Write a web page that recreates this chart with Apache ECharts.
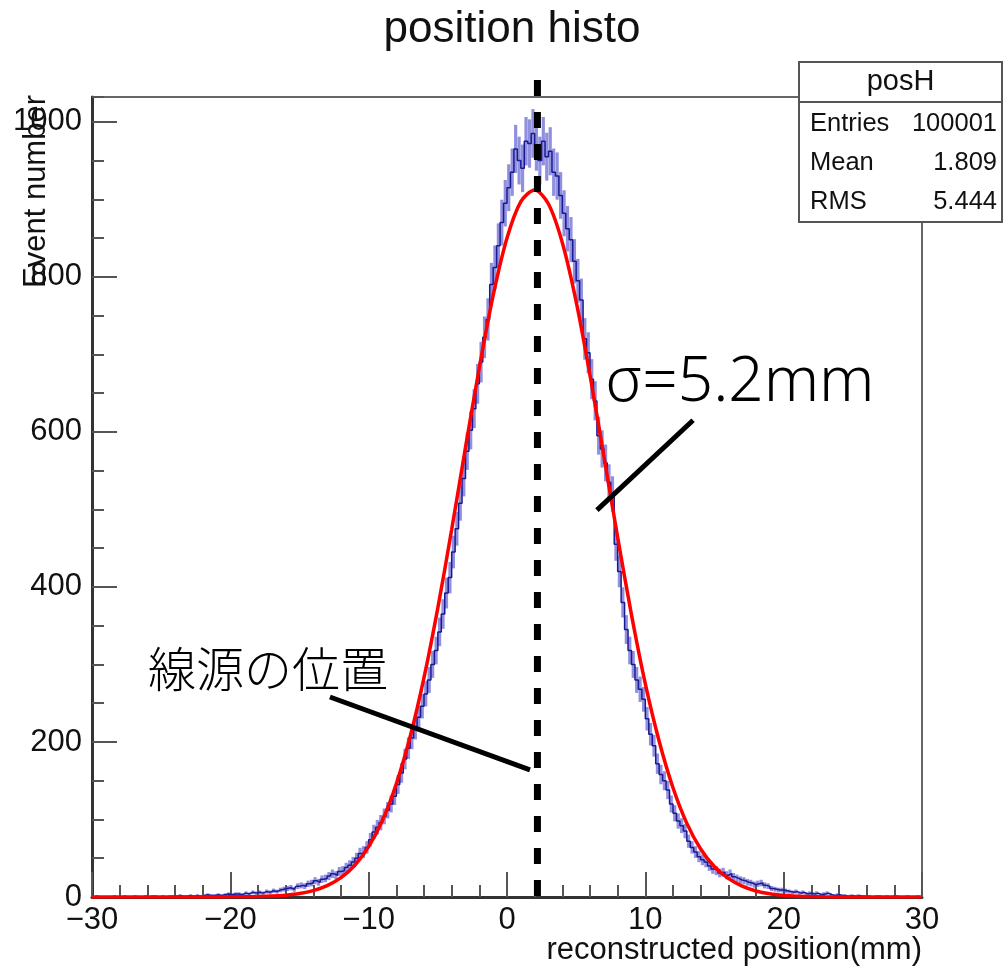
<!DOCTYPE html>
<html><head><meta charset="utf-8">
<script src="https://cdn.jsdelivr.net/npm/echarts@6/dist/echarts.min.js"></script>
<style>html,body{margin:0;padding:0;background:#fff}#c{width:1003px;height:969px}</style>
</head><body><div id="c"></div>
<script>
// ---- data ----
const histLow = -30;
const histBinWidth = 0.25;
const histCounts = [
  0,1,0,0,  0,0,1,0,  0,1,0,0,  1,0,0,1,  0,1,1,0,
  1,0,1,1,  1,2,1,1,  2,1,2,1,  2,3,2,2,  3,2,3,4,
  3,4,4,3,  5,4,6,5,  6,5,7,6,  8,7,9,10, 11,12,10,14,
  15,14,17,18, 21,19,23,24, 27,30,28,33, 34,38,41,45, 50,56,58,64,
  74,84,90,96, 104,112,120,130, 145,160,178,192, 205,218,232,246, 262,280,300,318,
  342,365,392,412, 445,475,508,540, 575,602,630,662, 690,722,745,790, 812,840,870,895,
  915,935,965,950, 940,975,972,985, 968,950,975,955, 962,935,930,905, 882,862,848,820,
  795,770,720,702, 668,640,595,578, 560,535,520,455, 420,380,345,318, 300,280,268,255,
  230,210,195,172, 158,150,138,120, 108,98,92,85, 72,64,58,52, 48,45,40,36,
  34,31,32,28, 30,26,24,22, 21,19,18,16, 17,18,15,14, 11,10,9,9,
  8,7,6,7, 5,6,4,5, 4,5,3,4, 5,3,2,3, 2,2,1,2,
  1,2,1,1, 1,0,1,1, 0,1,0,1, 1,0,0,1, 0,0,1,0
];
const fitX = [-30,-29,-28,-27,-26,-25,-24,-23,-22,-21,-20,-19,-18,-17,-16,-15,-14,-13,-12,-11,-10,-9,-8,-7,-6,-5,-4,-3,-2,-1,0,1,2,3,4,5,6,7,8,9,10,11,12,13,14,15,16,17,18,19,20,21,22,23,24,25,26,27,28,29,30];
const fitY = [0,0,0,0,0,0,0,0,0,0.1,0.2,0.3,0.6,1.2,2.4,4.5,8.3,14.6,25,41,65,99,146,207,283,373,474,580,683,776,850,897,912,894,844,768,673,569,464,364,275,201,141,95,62,39,24,14,7.8,4.2,2.2,1.1,0.5,0.2,0.1,0,0,0,0,0,0];
const xTickValues = [-30,-20,-10,0,10,20,30];
const yTickValues = [0,200,400,600,800,1000];
const statsTitle = 'posH';
const statsNames = ['Entries','Mean','RMS'];
const statsValues = ['100001','1.809','5.444'];
const sourcePosition = 2.2;          // dashed line (mm)
const sigmaLabel = 'σ=5.2mm';
const sourceLabel = '線源の位置';

// ---- build ----
const histData = histCounts.map((v, i) => [histLow + (i + 0.5) * histBinWidth, v]);
const fitData = fitX.map((x, i) => [x, fitY[i]]);
const FONT = 'Liberation Sans, Arial, sans-serif';
const yMax = 1032;

const chart = echarts.init(document.getElementById('c'), null, {renderer: 'canvas'});
const fmt = v => (v < 0 ? '\u2212' + (-v) : String(v));

chart.setOption({
  animation: false,
  backgroundColor: '#fff',
  title: {
    text: 'position histo', left: 507, top: 3, textAlign: 'center',
    textStyle: {fontFamily: FONT, fontSize: 44, fontWeight: 'normal', color: '#111'}
  },
  grid: {left: 92, right: 81, top: 97, bottom: 72, show: true, borderColor: '#666', borderWidth: 2, backgroundColor: 'transparent'},
  xAxis: {
    type: 'value', min: -30, max: 30, interval: 10,
    axisLine: {onZero: false, lineStyle: {color: '#333', width: 3}},
    axisTick: {inside: true, length: 25, lineStyle: {color: '#555', width: 2}},
    minorTick: {show: true, splitNumber: 5, length: 12, lineStyle: {color: '#555', width: 2}},
    axisLabel: {fontFamily: FONT, fontSize: 31, color: '#111', margin: 8,
      formatter: v => xTickValues.includes(v) ? fmt(v) : ''},
    splitLine: {show: false}
  },
  yAxis: [{
    type: 'value', min: 0, max: yMax, interval: 200, position: 'left',
    axisLine: {show: true, onZero: false, lineStyle: {color: '#333', width: 3}},
    axisTick: {inside: true, length: 25, lineStyle: {color: '#555', width: 2}},
    axisLabel: {fontFamily: FONT, fontSize: 31, color: '#111', margin: 10, showMaxLabel: false,
      formatter: v => yTickValues.includes(v) ? String(v) : ''},
    splitLine: {show: false}
  }, {
    type: 'value', min: 0, max: yMax, interval: 50, position: 'left',
    axisLine: {show: false, onZero: false},
    axisTick: {show: true, inside: true, length: 12, lineStyle: {color: '#555', width: 2}},
    axisLabel: {show: false},
    splitLine: {show: false}
  }],
  series: [{
    type: 'custom', name: 'errors', z: 2, data: histData,
    renderItem: (params, api) => {
      const x = api.value(0), y = api.value(1);
      if (y <= 0) return null;
      const e = Math.sqrt(y);
      const t = api.coord([x, y + e]), b = api.coord([x, Math.max(0, y - e)]);
      return {type: 'rect', shape: {x: t[0] - 1.6, y: t[1], width: 3.2, height: b[1] - t[1]},
        style: {fill: 'rgba(70,70,200,0.6)'}};
    }
  }, {
    type: 'line', name: 'posH', z: 3, data: histData, step: 'middle', symbol: 'none',
    lineStyle: {color: '#1a1a90', width: 1.5}
  }, {
    type: 'line', name: 'fit', z: 4, data: fitData, smooth: 0.3, symbol: 'none',
    lineStyle: {color: '#ff0000', width: 3.5}
  }]
});

function px(x, y) { return chart.convertToPixel({gridIndex: 0}, [x, y]); }
const dTop = px(sourcePosition, 1054), dBot = px(sourcePosition, 0);
const s1 = px(13.45, 615), s2 = px(6.5, 499);
const l1 = px(-12.8, 258), l2 = px(1.66, 164);
const sigmaPos = px(7.1, 663), sourcePos = px(-25.95, 295);

const statsBox = {x: 799, y: 62, w: 203, h: 160};
const statsEls = [
  {type: 'rect', z: 20, shape: {x: statsBox.x, y: statsBox.y, width: statsBox.w, height: statsBox.h},
    style: {fill: '#fff', stroke: '#555', lineWidth: 2}},
  {type: 'line', z: 21, shape: {x1: statsBox.x, y1: statsBox.y + 40, x2: statsBox.x + statsBox.w, y2: statsBox.y + 40},
    style: {stroke: '#555', lineWidth: 2}},
  {type: 'text', z: 21, x: statsBox.x + statsBox.w / 2, y: statsBox.y + 20,
    style: {text: statsTitle, fontFamily: FONT, fontSize: 29, fill: '#111', align: 'center', verticalAlign: 'middle'}}
];
statsNames.forEach((n, i) => {
  const yy = statsBox.y + 62 + i * 39;
  statsEls.push({type: 'text', z: 21, x: statsBox.x + 11, y: yy,
    style: {text: n, fontFamily: FONT, fontSize: 25.5, fill: '#111', align: 'left', verticalAlign: 'middle'}});
  statsEls.push({type: 'text', z: 21, x: statsBox.x + statsBox.w - 5, y: yy,
    style: {text: statsValues[i], fontFamily: FONT, fontSize: 25.5, fill: '#111', align: 'right', verticalAlign: 'middle'}});
});

chart.setOption({
  graphic: [
    {type: 'line', z: 10, shape: {x1: dTop[0], y1: dTop[1], x2: dBot[0], y2: dBot[1]},
      style: {stroke: '#000', lineWidth: 7, lineDash: [16, 16]}},
    {type: 'line', z: 10, shape: {x1: s1[0], y1: s1[1], x2: s2[0], y2: s2[1]}, style: {stroke: '#000', lineWidth: 5}},
    {type: 'line', z: 10, shape: {x1: l1[0], y1: l1[1], x2: l2[0], y2: l2[1]}, style: {stroke: '#000', lineWidth: 5}},
    {type: 'text', z: 10, x: sigmaPos[0], y: sigmaPos[1],
      style: {text: sigmaLabel, fontFamily: 'Noto Sans, sans-serif', fontSize: 62, fontWeight: 300, fill: '#000', align: 'left', verticalAlign: 'middle'}},
    {type: 'text', z: 10, x: sourcePos[0], y: sourcePos[1],
      style: {text: sourceLabel, fontFamily: 'Noto Sans CJK JP, sans-serif', fontSize: 48, fontWeight: 300, fill: '#000', align: 'left', verticalAlign: 'middle'}},
    {type: 'text', z: 10, x: 36, y: 95, rotation: Math.PI / 2,
      style: {text: 'Event number', fontFamily: FONT, fontSize: 31, fill: '#111', align: 'right', verticalAlign: 'middle'}},
    {type: 'text', z: 10, x: 922, y: 950,
      style: {text: 'reconstructed position(mm)', fontFamily: FONT, fontSize: 31, fill: '#111', align: 'right', verticalAlign: 'middle'}}
  ].concat(statsEls)
});
</script>
</body></html>
